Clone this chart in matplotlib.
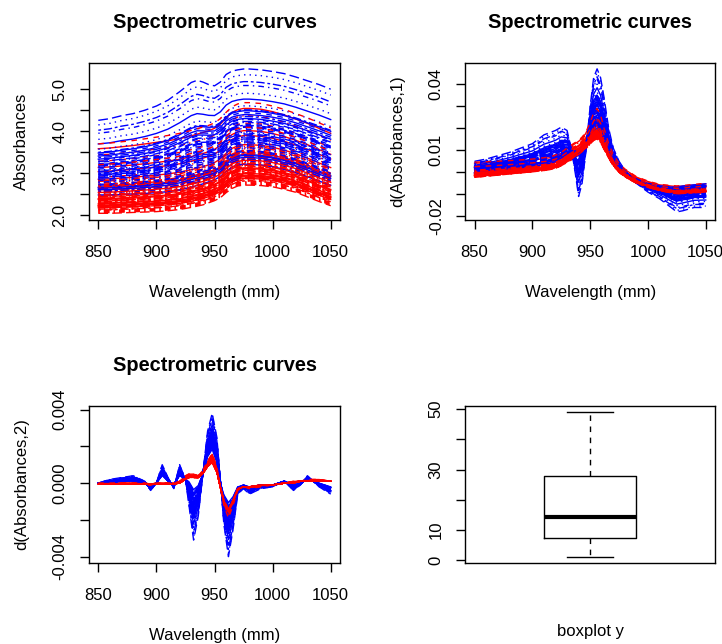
import numpy as np
import matplotlib.pyplot as plt

plt.rcParams['font.family'] = ['Liberation Sans', 'DejaVu Sans']
plt.rcParams['font.size'] = 12

# --- absorbance curves, lowest / highest curve of each group
wl_abs = [850, 860, 870, 880, 890, 900, 910, 920, 930, 935, 940, 945, 950, 955,
          960, 965, 970, 975, 980, 990, 1000, 1010, 1020, 1030, 1040, 1050]
abs_blue_lo = [2.45, 2.45, 2.46, 2.47, 2.48, 2.50, 2.52, 2.56, 2.62, 2.66, 2.70, 2.75, 2.80, 2.88,
               3.00, 3.10, 3.15, 3.17, 3.17, 3.15, 3.11, 3.05, 2.97, 2.87, 2.77, 2.67]
abs_blue_hi = [4.26, 4.30, 4.37, 4.42, 4.50, 4.60, 4.74, 4.94, 5.16, 5.21, 5.17, 5.11, 5.08, 5.17,
               5.35, 5.43, 5.46, 5.48, 5.48, 5.46, 5.42, 5.37, 5.29, 5.20, 5.11, 5.00]
abs_red_lo = [2.05, 2.05, 2.06, 2.07, 2.08, 2.09, 2.11, 2.14, 2.19, 2.22, 2.25, 2.30, 2.35, 2.42,
              2.54, 2.64, 2.70, 2.72, 2.72, 2.71, 2.68, 2.62, 2.55, 2.44, 2.33, 2.23]
abs_red_hi = [3.70, 3.72, 3.75, 3.78, 3.82, 3.86, 3.90, 3.95, 4.02, 4.06, 4.10, 4.14, 4.20, 4.30,
              4.45, 4.58, 4.65, 4.68, 4.68, 4.66, 4.60, 4.52, 4.42, 4.32, 4.20, 4.08]

# --- first derivative
wl_d1 = [850, 860, 870, 880, 890, 900, 905, 910, 915, 920, 925, 930, 934, 937, 940, 943, 946,
         950, 953, 956, 959, 962, 966, 970, 975, 980, 990, 1000, 1010, 1020, 1025, 1030, 1040, 1050]
d1_blue_lo = [-0.0008, -0.0003, 0.0005, 0.0012, 0.0018, 0.0024, 0.0028, 0.0033, 0.0038, 0.0046,
              0.0062, 0.0082, 0.0093, 0.0099, 0.0104, 0.0118, 0.0138, 0.0168, 0.0188, 0.0193,
              0.0170, 0.0130, 0.0080, 0.0040, 0.0010, -0.0010, -0.0030, -0.0050, -0.0060,
              -0.0065, -0.0065, -0.0060, -0.0055, -0.0050]
d1_blue_hi = [0.0050, 0.0060, 0.0075, 0.0090, 0.0110, 0.0130, 0.0150, 0.0170, 0.0180, 0.0190,
              0.0205, 0.0190, 0.0100, 0.0000, -0.0110, -0.0050, 0.0080, 0.0300, 0.0430, 0.0470,
              0.0430, 0.0340, 0.0200, 0.0110, 0.0050, 0.0010, -0.0050, -0.0090, -0.0120,
              -0.0160, -0.0180, -0.0175, -0.0160, -0.0160]
d1_red_lo = [-0.0023, -0.0018, -0.0013, -0.0008, -0.0003, 0.0002, 0.0005, 0.0008, 0.0012, 0.0018,
             0.0030, 0.0045, 0.0058, 0.0068, 0.0078, 0.0090, 0.0105, 0.0128, 0.0145, 0.0152,
             0.0135, 0.0105, 0.0065, 0.0030, 0.0000, -0.0020, -0.0050, -0.0070, -0.0085,
             -0.0095, -0.0100, -0.0098, -0.0095, -0.0092]
d1_red_hi = [0.0046, 0.0048, 0.0050, 0.0053, 0.0056, 0.0060, 0.0063, 0.0066, 0.0070, 0.0078,
             0.0090, 0.0110, 0.0125, 0.0135, 0.0145, 0.0160, 0.0180, 0.0225, 0.0270, 0.0290,
             0.0260, 0.0200, 0.0130, 0.0080, 0.0040, 0.0015, -0.0020, -0.0040, -0.0055,
             -0.0060, -0.0062, -0.0060, -0.0055, -0.0050]

# --- second derivative
wl_d2 = [850, 860, 870, 880, 890, 895, 900, 905, 910, 915, 920, 925, 928, 932, 936, 940, 944,
         948, 952, 955, 958, 962, 966, 970, 975, 980, 990, 1000, 1010, 1018, 1024, 1030, 1040, 1050]
d2_blue_lo = [0.0, 0.0, 0.0001, 0.0001, 0.0, -0.0002, 0.0, 0.0004, 0.0001, -0.0001, 0.0004,
              0.0002, 0.0001, -0.0003, -0.0001, 0.0005, 0.0014, 0.0018, 0.0011, 0.0, -0.0006,
              -0.0010, -0.0007, -0.0002, -0.0001, -0.0002, -0.0001, -0.0001, 0.0001, -0.0001,
              0.0, 0.0002, 0.0, -0.0002]
d2_blue_hi = [0.0, 0.0002, 0.0003, 0.0004, 0.0001, -0.0004, 0.0, 0.0010, 0.0003, -0.0003, 0.0010,
              0.0002, -0.0012, -0.0031, -0.0018, 0.0005, 0.0028, 0.0038, 0.0025, 0.0002, -0.0022,
              -0.0040, -0.0025, -0.0006, -0.0003, -0.0006, -0.0003, -0.0002, 0.0001, -0.0004,
              -0.0001, 0.0004, -0.0002, -0.0006]
d2_red_lo = [-0.00005, -0.00005, -0.00005, -0.00005, -0.00005, -0.0001, -0.00005, -0.00005,
             -0.00005, -0.00005, 0.0, 0.0002, 0.0003, 0.0003, 0.0003, 0.0005, 0.0009, 0.0011,
             0.0006, -0.0002, -0.0009, -0.0014, -0.0009, -0.0003, -0.0002, -0.0002, -0.0001,
             -0.0001, 0.0, 0.0, 0.0001, 0.0001, 0.0001, 0.0001]
d2_red_hi = [0.0, 0.0, 0.0, 0.0, 0.0, -0.00005, 0.0, 0.0, 0.0, 0.0, 0.0001, 0.0004,
             0.0005, 0.0005, 0.0004, 0.0007, 0.0012, 0.0016, 0.0009, -0.0002, -0.0012, -0.0019,
             -0.0012, -0.0004, -0.0002, -0.0003, -0.0002, -0.0001, 0.0, 0.0001, 0.0001, 0.0002,
             0.0002, 0.0001]

# position of each sample inside its group's band (0 = lowest curve, 1 = highest)
blue_w = [0.32, 0.18, 0.45, 0.27, 0.51, 0.12, 0.38, 0.22, 0.05, 0.41, 0.30, 0.69, 0.15, 0.35,
          0.48, 0.25, 0.58, 0.09, 0.43, 0.20, 0.83, 0.33, 0.28, 0.53, 0.16, 0.39, 0.24, 0.46,
          0.87, 0.11, 0.36, 0.62, 0.19, 0.29, 0.42, 0.02, 0.55, 0.26, 0.34, 1.00, 0.14, 0.49,
          0.21, 0.75, 0.31, 0.40, 0.07, 0.57, 0.23, 0.94]
red_w = [0.12, 0.25, 0.05, 0.33, 0.18, 0.41, 0.08, 0.22, 0.29, 0.02, 0.15, 0.37, 0.10, 0.46,
         0.20, 0.27, 0.00, 0.31, 0.14, 0.52, 0.07, 0.23, 0.35, 0.17, 0.60, 0.11, 0.28, 0.04,
         0.39, 0.19, 0.66, 0.13, 0.24, 0.44, 0.09, 0.32, 0.21, 0.75, 0.16, 0.03, 0.36, 0.26,
         0.49, 0.06, 0.30, 0.84, 0.18, 0.42, 0.11, 0.22, 0.56, 0.01, 0.34, 0.15, 0.93, 0.27,
         0.08, 0.38, 0.20, 1.00, 0.13, 0.47, 0.24, 0.05, 0.30, 0.70, 0.17, 0.40, 0.09, 0.26]
n_red_first = 55  # reds drawn under the blue curves; the rest go on top

# boxplot of fat content y
y_whislo, y_q1, y_med, y_q3, y_whishi = 0.9, 7.4, 14.1, 28.0, 49.2

# R lty 1..6
ltys = ['-', (0, (4, 4)), (0, (1, 3)), (0, (1, 3, 4, 3)), (0, (7, 3)), (0, (2, 2, 6, 2))]


def draw_curves(ax, wl, blue_lo, blue_hi, red_lo, red_hi):
    blue_lo, blue_hi = np.array(blue_lo), np.array(blue_hi)
    red_lo, red_hi = np.array(red_lo), np.array(red_hi)
    order = ([('red', w) for w in red_w[:n_red_first]] +
             [('blue', w) for w in blue_w] +
             [('red', w) for w in red_w[n_red_first:]])
    for k, (col, w) in enumerate(order):
        if col == 'blue':
            y = blue_lo + w * (blue_hi - blue_lo)
        else:
            y = red_lo + w * (red_hi - red_lo)
        ax.plot(wl, y, color=col, lw=1.0, ls=ltys[k % 6])


def style(ax, title=None):
    for s in ax.spines.values():
        s.set_linewidth(1.0)
    ax.tick_params(direction='out', length=6.5, width=1.0, labelsize=12)
    ax.tick_params(axis='x', pad=12)
    ax.tick_params(axis='y', pad=9, labelrotation=90)
    for lab in ax.get_yticklabels():
        lab.set_va('center')
    if title:
        ax.set_title(title, fontsize=14.4, fontweight='bold', pad=25)


fig = plt.figure(figsize=(7.22, 6.44), dpi=100)
ax1 = fig.add_axes([0.1233, 0.659, 0.3476, 0.243])
ax2 = fig.add_axes([0.6445, 0.659, 0.3458, 0.243])
ax3 = fig.add_axes([0.1233, 0.1262, 0.3476, 0.2436])
ax4 = fig.add_axes([0.6445, 0.1262, 0.3458, 0.2436])

xt = [850, 900, 950, 1000, 1050]

draw_curves(ax1, wl_abs, abs_blue_lo, abs_blue_hi, abs_red_lo, abs_red_hi)
ax1.set_xlim(842, 1058)
ax1.set_ylim(1.90, 5.62)
ax1.set_xticks(xt)
ax1.set_yticks([2.0, 2.5, 3.0, 3.5, 4.0, 4.5, 5.0])
ax1.set_yticklabels(['2.0', '', '3.0', '', '4.0', '', '5.0'])
ax1.set_xlabel('Wavelength (mm)', labelpad=18)
ax1.set_ylabel('Absorbances', labelpad=17)
style(ax1, 'Spectrometric curves')

draw_curves(ax2, wl_d1, d1_blue_lo, d1_blue_hi, d1_red_lo, d1_red_hi)
ax2.set_xlim(842, 1058)
ax2.set_ylim(-0.0215, 0.0496)
ax2.set_xticks(xt)
ax2.set_yticks([-0.02, -0.01, 0.0, 0.01, 0.02, 0.03, 0.04])
ax2.set_yticklabels(['-0.02', '', '', '0.01', '', '', '0.04'])
ax2.set_xlabel('Wavelength (mm)', labelpad=18)
ax2.set_ylabel('d(Absorbances,1)', labelpad=17)
style(ax2, 'Spectrometric curves')

draw_curves(ax3, wl_d2, d2_blue_lo, d2_blue_hi, d2_red_lo, d2_red_hi)
ax3.set_xlim(842, 1058)
ax3.set_ylim(-0.00433, 0.0042)
ax3.set_xticks(xt)
ax3.set_yticks([-0.004, -0.002, 0.0, 0.002, 0.004])
ax3.set_yticklabels(['-0.004', '', '0.000', '', '0.004'])
ax3.set_xlabel('Wavelength (mm)', labelpad=18)
ax3.set_ylabel('d(Absorbances,2)', labelpad=17)
style(ax3, 'Spectrometric curves')

stats = [dict(whislo=y_whislo, q1=y_q1, med=y_med, q3=y_q3, whishi=y_whishi, fliers=[])]
ax4.bxp(stats, positions=[1], widths=0.4, showfliers=False,
        boxprops=dict(color='black', lw=1.0),
        whiskerprops=dict(color='black', lw=1.0, ls=(0, (4, 4))),
        capprops=dict(color='black', lw=1.0),
        medianprops=dict(color='black', lw=3.0, solid_capstyle='butt'),
        capwidths=0.2)
ax4.set_xlim(0.46, 1.54)
ax4.set_ylim(-0.9, 51.1)
ax4.set_xticks([])
ax4.set_yticks([0, 10, 20, 30, 40, 50])
ax4.set_yticklabels(['0', '10', '', '30', '', '50'])
ax4.set_xlabel('boxplot y', labelpad=44)
style(ax4)

fig.savefig('out.png', dpi=100)
